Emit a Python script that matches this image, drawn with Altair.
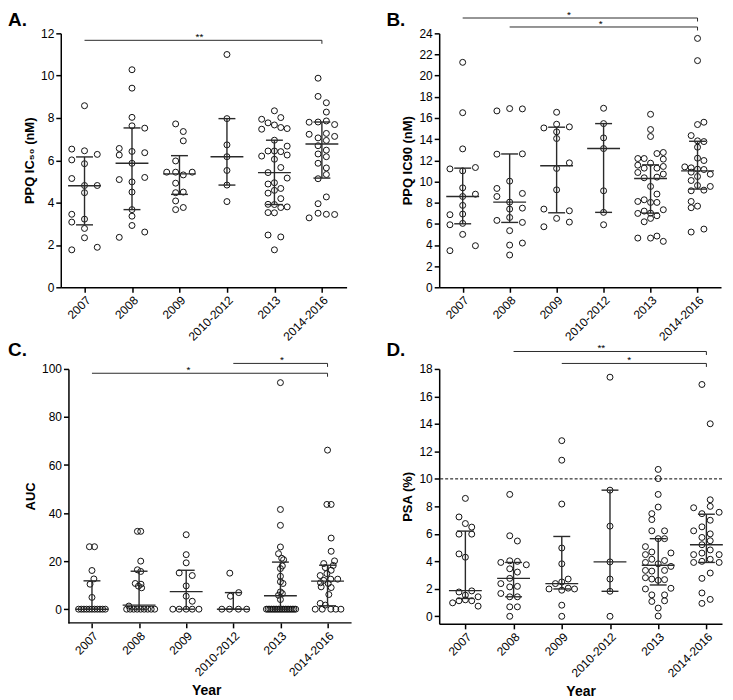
import altair as alt
import pandas as pd

groups = ["2007", "2008", "2009", "2010-2012", "2013", "2014-2016"]

# ---------------- Panel A: PPQ IC50 ----------------
ic50_values = {
    "2007": [8.58, 6.53, 6.45, 6.28, 6.02, 5.84, 5.14, 4.81, 4.81, 4.47, 3.45, 3.08, 3.22, 2.78, 2.34, 1.77, 1.89],
    "2008": [10.28, 9.41, 8.03, 7.63, 7.52, 6.56, 6.25, 6.42, 6.36, 5.86, 5.09, 5.19, 4.98, 4.50, 3.67, 3.36, 2.92, 2.36, 2.61],
    "2009": [7.72, 7.36, 6.92, 5.97, 5.44, 5.44, 5.31, 5.44, 4.92, 4.50, 4.47, 4.08, 3.67, 3.77],
    "2010-2012": [11.0, 7.97, 6.73, 6.17, 5.52, 4.83, 4.05],
    "2013": [8.34, 8.02, 7.94, 7.77, 7.67, 7.55, 7.50, 7.47, 6.95, 6.67, 6.20, 6.44, 6.44, 6.41, 6.25, 6.05, 5.66,
             5.42, 5.16, 4.88, 4.94, 4.67, 4.45, 4.58, 4.19, 3.92, 3.91, 3.77, 3.80, 3.53, 3.52, 2.47, 2.38, 1.77],
    "2014-2016": [9.88, 9.02, 8.72, 8.28, 7.80, 7.81, 7.86, 7.69, 7.23, 7.06, 7.27, 7.13, 6.94, 6.69, 6.30, 6.48,
                  6.17, 5.86, 5.64, 5.33, 5.13, 4.27, 3.95, 3.28, 3.50, 3.45, 3.44],
}
ic50_lanes = {
    "2007": [0, -2, 0, 2, -2, 0, -2, 0, 2, 0, -2, -2, 0, 0, 0, -2, 2],
    "2008": [0, 0, 0, 0, 2, -2, -2, 0, 2, 0, -2, 2, 0, 0, 0, 0, 0, -2, 2],
    "2009": [-0.6, 0.6, 0.6, -0.6, -2, -0.6, 0.6, 2, -0.6, 0.6, -0.6, -0.6, -0.6, 0.6],
    "2010-2012": [0, 0, 0, 0, 0, 0, 0],
    "2013": [0, 1, -2, -1, 0, 1, 2, -2, 0, 2, -2, -1, 0, 1, 2, 0, 1, -1, 2, -1, 0, 1, -1, 0, 1, -1, 0, 1, 2, -1,
             0, -1, 1, 0],
    "2014-2016": [-0.6, -0.6, 0.7, 0.7, -2, -0.6, 0.7, 2, -2, -0.6, 0.7, 2, 0.7, -0.6, -0.6, 0.7, 0.7, -0.6, 0.7,
                  0.7, -0.6, 0.7, -0.6, -2, -0.6, 0.7, 2],
}
ic50_median = [4.80, 5.86, 5.36, 6.17, 5.42, 6.77]
ic50_q1 = [2.95, 3.67, 4.39, 4.83, 3.91, 5.16]
ic50_q3 = [6.16, 7.53, 6.22, 7.97, 6.95, 7.81]
ic50_sig = {"from": [0], "to": [5], "y": [11.67], "label": ["**"], "label_x": [2.42]}
ic50_ticks = [0, 2, 4, 6, 8, 10, 12]

# ---------------- Panel B: PPQ IC90 ----------------
ic90_values = {
    "2007": [21.26, 16.5, 13.08, 11.19, 11.0, 11.32, 9.4, 8.8, 8.58, 7.74, 6.86, 6.92, 5.91, 6.04, 5.0, 3.46, 3.93],
    "2008": [16.67, 16.89, 16.86, 12.58, 12.61, 10.03, 9.34, 8.58, 8.05, 7.39, 8.87, 7.48, 6.32, 6.6, 6.13, 5.35,
             3.99, 4.18, 3.05],
    "2009": [16.54, 15.06, 15.41, 15.16, 14.69, 14.06, 11.76, 11.23, 9.21, 7.39, 7.23, 6.51, 5.72, 6.16],
    "2010-2012": [16.92, 15.47, 14.12, 13.11, 9.12, 7.08, 5.91],
    "2013": [16.35, 14.91, 14.25, 12.64, 12.74, 12.17, 12.17, 12.11, 11.73, 11.54, 11.26, 11.26, 11.42, 10.85,
             10.35, 9.53, 10.41, 10.70, 8.81, 8.11, 8.27, 8.02, 8.02, 6.98, 7.20, 7.01, 6.76, 7.33, 6.19, 6.51,
             4.65, 4.65, 4.84, 4.34],
    "2014-2016": [23.52, 21.42, 15.38, 15.6, 14.34, 13.84, 13.77, 13.24, 12.2, 11.98, 11.38, 11.29, 11.16, 11.13,
                  10.88, 10.47, 10.69, 10.09, 9.62, 9.53, 9.18, 9.12, 8.11, 7.52, 7.67, 5.22, 5.5],
}
ic90_lanes = {
    "2007": [0, 0, 0, -2, 0, 2, 0, 2, 0, 0, -2, 0, -2, 0, 0, -2, 2],
    "2008": [-2, 0, 2, -2, 2, 0, -2, -2, 0, 0, 2, 2, -2, 0, 2, 0, 0, 2, 0],
    "2009": [0, -2, 0, 2, 0, 0, 2, 0, 0, -2, 2, 0, -2, 2],
    "2010-2012": [0, 0, 0, 0, 0, 0, 0],
    "2013": [0, 0, 0, 1, 2, -2, -1, 2, 0, -2, -1, 1, 2, -2, -1, 0, 1, 2, 1, -2, -1, 0, 1, -2, -1, 0, 1, 2, -1, 0,
             -2, 0, 1, 2],
    "2014-2016": [0, 0, 0, 1, -1, 0, 1, 0, 0, 1, -2, -1, 0, 1, -1, 0, 2, -1, 0, 2, 1, -1, -1, -1, 0, -1, 1],
}
ic90_median = [8.58, 8.05, 11.48, 13.11, 10.28, 11.0]
ic90_q1 = [6.0, 6.13, 7.04, 7.08, 7.01, 9.28]
ic90_q3 = [11.26, 12.6, 15.13, 15.47, 11.57, 13.8]
ic90_sig = {"from": [0, 1], "to": [5, 5], "y": [25.45, 24.6], "label": ["*", "*"], "label_x": [2.26, 2.94]}
ic90_ticks = [0, 2, 4, 6, 8, 10, 12, 14, 16, 18, 20, 22, 24]

# ---------------- Panel C: AUC ----------------
auc_values = {
    "2007": [26.0, 26.0, 16.1, 12.6, 10.4, 4.9, 0, 0, 0, 0, 0, 0, 0, 0, 0, 0, 0],
    "2008": [32.4, 32.4, 20.0, 16.4, 15.7, 10.7, 10.4, 9.6, 8.9, 1.3, 0, 0, 0, 0, 0, 0, 0, 0, 0],
    "2009": [31.0, 22.7, 19.3, 15.1, 14.0, 9.7, 5.4, 3.3, 0, 0, 0, 0, 0],
    "2010-2012": [15.0, 6.9, 5.4, 0, 0, 0, 0],
    "2013": [94.3, 41.5, 34.9, 25.9, 23.1, 21.2, 20.6, 16.9, 13.7, 11.4, 10.7, 7.2, 5.8, 4.0, 18.0, 6.5,
             0, 0, 0, 0, 0, 0, 0, 0, 0, 0, 0, 0, 0, 0, 0, 0, 0, 0],
    "2014-2016": [66.2, 43.6, 43.6, 29.6, 24.1, 19.0, 20.1, 17.3, 16.2, 14.0, 14.8, 12.0, 12.5, 12.5, 10.7, 9.3,
                  9.0, 6.1, 2.4, 1.7, 18.2, 11.0, 0, 0, 0, 0, 0],
}
auc_lanes = {
    "2007": [-0.4, 0.4, 0, 0.3, -0.3, 0, -2.1, -1.68, -1.26, -0.84, -0.42, 0, 0.42, 0.84, 1.26, 1.68, 2.1],
    "2008": [-0.26, 0.26, 0.26, -0.26, 0.26, -0.6, 0.3, -0.1, 0.4, -1.6,
             -1.95, -1.4, -0.85, -0.3, 0.25, 0.8, 1.35, 1.9, 2.45],
    "2009": [0, 0, 0, -1.1, 0.95, 0, 0, 0.95, -2.1, -1.1, 0, 0.95, 2.0],
    "2010-2012": [-0.55, 0.85, -0.45, -1.8, -0.6, 0.8, 2.1],
    "2013": [0, 0, 0, 0, -0.3, 0.2, 0.5, 0, 0, 0, 0.4, 0, -0.3, 0, 0.3, 0.3,
             -2.2, -1.93, -1.66, -1.39, -1.12, -0.85, -0.58, -0.31, -0.04, 0.23, 0.5, 0.77, 1.04, 1.31, 1.58,
             1.85, 2.12, 2.39],
    "2014-2016": [0, -0.1, 0.57, 0.57, 0.57, -0.6, 1.1, -0.35, 0.57, -1.15, -0.1, -0.6, 0.5, 1.6, 0.1, -1.0,
                  0.57, 0.2, -1.15, -0.35, 0.9, -1.1, -1.93, -0.83, 0.52, 1.3, 2.1],
}
auc_median = [0, 1.7, 7.3, 0, 5.6, 11.7]
auc_q1 = [0, 0, 0, 0, 0, 1.4]
auc_q3 = [11.8, 15.8, 16.2, 6.9, 19.6, 18.3]
auc_sig = {"from": [3, 0], "to": [5, 5], "y": [102.3, 98.2], "label": ["*", "*"], "label_x": [4.03, 2.05]}
auc_ticks = [0, 20, 40, 60, 80, 100]

# ---------------- Panel D: PSA ----------------
psa_values = {
    "2007": [8.58, 7.23, 6.75, 6.49, 5.98, 5.98, 4.54, 4.30, 1.77, 1.85, 1.54, 0.98, 1.13, 1.20, 1.13, 1.42, 0.74],
    "2008": [8.87, 5.86, 5.48, 3.92, 4.04, 4.00, 3.75, 3.46, 3.22, 2.76, 2.38, 2.18, 2.14, 1.66, 1.42, 1.42, 0.69,
             0.69, 0.0],
    "2009": [12.78, 11.36, 8.17, 4.97, 3.82, 2.71, 2.38, 2.5, 1.99, 2.05, 1.99, 1.9, 0.81, 0.0],
    "2010-2012": [17.4, 9.18, 6.56, 3.96, 2.71, 1.82, 0.0],
    "2013": [10.69, 10.02, 8.87, 7.95, 7.47, 7.04, 6.22, 6.22, 5.65, 5.65, 5.07, 4.49, 4.68, 4.61, 3.92, 4.15,
             3.82, 4.06, 3.63, 3.34, 3.29, 3.34, 2.81, 2.71, 2.62, 2.67, 1.99, 2.04, 1.56, 1.56, 1.08, 1.13,
             0.60, 0.02],
    "2014-2016": [16.87, 14.01, 8.48, 7.90, 8.00, 7.47, 7.57, 6.99, 6.22, 6.51, 6.00, 5.74, 5.50, 5.21, 4.49,
                  4.83, 4.49, 4.60, 3.92, 4.00, 4.15, 3.92, 3.15, 2.76, 1.70, 0.94, 1.23],
}
psa_lanes = {
    "2007": [0, -1, 0, 1, -1, 1, -1, 0, -1, 1, 0, -2, -1, 0, 1, 2, 2],
    "2008": [-0.6, -0.6, 0.6, -2, -0.6, 0.6, 2, -0.6, 0.6, -0.6, -2, 0.6, -0.6, -2, -0.6, 0.6, -0.6, 0.6, -0.6],
    "2009": [0, 0, 0, 0, 0, 1, -1, 0, -2, 1, 2, 0, 0, 0],
    "2010-2012": [0, 0, 0, 0, 0, 0, 0],
    "2013": [0, 0, 0, 0, -1, -1, -1, 1, 0, 1, -2, -2, -1, 2, -2, -1, 0, 1, 2, -2, -1, 1, -2, -1, 0, 1, -2, 2, -1,
             1, -1, 1, 0, 0],
    "2014-2016": [-0.7, 0.6, 0.6, -2, 0.6, -0.7, 2, 0.6, -2, -0.7, 0.6, -0.7, 0.6, -0.7, -2, 0.6, 2, -0.7, -2,
                  -0.7, 0.6, 2, 0.6, -0.7, -0.7, -0.7, 0.6],
}
psa_median = [1.87, 2.76, 2.38, 3.96, 3.72, 5.21]
psa_q1 = [1.3, 1.42, 1.99, 1.82, 2.28, 3.92]
psa_q3 = [6.2, 3.92, 5.81, 9.18, 5.65, 7.43]
psa_sig = {"from": [1, 2], "to": [5, 5], "y": [19.27, 18.4], "label": ["**", "*"], "label_x": [2.82, 3.40]}
psa_ticks = [0, 2, 4, 6, 8, 10, 12, 14, 16, 18]
psa_threshold = [10]

# ---------------- styling constants ----------------
LANE_PX = 6.4
MED_HALF_PX = 16.5
Q_HALF_PX = 8.5
DROP_PX = 3.5
FONT = "Liberation Sans"
LINE = "#2a2a2a"

label_expr = "[" + ",".join("'" + g + "'" for g in groups) + "][datum.value]"


def make_panel(letter, values, lanes, med, q1, q3, sig, ydom, yticks, ytitle, width, height, xdom,
               xtitle=None, yoffset=0, own_baseline=False, threshold=None, letter_y=-7):
    ppx = width / (xdom[1] - xdom[0])
    ppy = height / (ydom[1] - ydom[0])
    rows = []
    for gi, g in enumerate(groups):
        for v, ln in zip(values[g], lanes[g]):
            rows.append({"x": gi + ln * LANE_PX / ppx, "y": v})
    pts = pd.DataFrame(rows)
    st = pd.DataFrame({"x": list(range(len(groups))), "med": med, "q1": q1, "q3": q3})
    st["m0"] = st["x"] - MED_HALF_PX / ppx
    st["m1"] = st["x"] + MED_HALF_PX / ppx
    st["w0"] = st["x"] - Q_HALF_PX / ppx
    st["w1"] = st["x"] + Q_HALF_PX / ppx
    sg = pd.DataFrame(sig)
    sg["ydrop"] = sg["y"] - DROP_PX / ppy

    xs = alt.Scale(domain=xdom, nice=False, zero=False)
    ys = alt.Scale(domain=ydom, nice=False, zero=False)
    xaxis_kw = dict(values=list(range(len(groups))), labelExpr=label_expr, labelAngle=-45,
                    labelAlign="right", labelBaseline="top", labelOverlap=False, labelBound=False,
                    title=xtitle, titleFontSize=14, titlePadding=6)
    if own_baseline:
        xaxis_kw["domain"] = False
    xaxis = alt.Axis(**xaxis_kw)
    yaxis = alt.Axis(values=yticks, title=ytitle, offset=yoffset, labelOverlap=False)

    def X(f):
        return alt.X(f, type="quantitative", scale=xs, axis=xaxis)

    def Y(f):
        return alt.Y(f, type="quantitative", scale=ys, axis=yaxis)

    layers = []
    layers.append(alt.Chart(pts).mark_point(shape="circle", filled=False, size=36, strokeWidth=1,
                                            color="#111111", opacity=1).encode(x=X("x"), y=Y("y")))
    if threshold is not None:
        layers.append(alt.Chart(pd.DataFrame({"t": threshold})).mark_rule(
            color="black", strokeWidth=1, strokeDash=[3, 2]).encode(y=Y("t")))
    rule = dict(color=LINE, strokeWidth=1.4)
    layers.append(alt.Chart(st).mark_rule(**rule).encode(x=X("x"), y=Y("q1"), y2=alt.Y2("q3")))
    layers.append(alt.Chart(st).mark_rule(**rule).encode(x=X("m0"), x2=alt.X2("m1"), y=Y("med")))
    layers.append(alt.Chart(st).mark_rule(**rule).encode(x=X("w0"), x2=alt.X2("w1"), y=Y("q1")))
    layers.append(alt.Chart(st).mark_rule(**rule).encode(x=X("w0"), x2=alt.X2("w1"), y=Y("q3")))
    srule = dict(color=LINE, strokeWidth=1)
    layers.append(alt.Chart(sg).mark_rule(**srule).encode(x=X("from"), x2=alt.X2("to"), y=Y("y")))
    layers.append(alt.Chart(sg).mark_rule(**srule).encode(x=X("to"), y=Y("y"), y2=alt.Y2("ydrop")))
    layers.append(alt.Chart(sg).mark_text(fontSize=10, font=FONT, baseline="alphabetic", align="center",
                                          color="black").encode(x=X("label_x"), y=Y("y"), text="label"))
    if own_baseline:
        bl = pd.DataFrame({"a": [-0.5], "b": [xdom[1]], "y": [ydom[0]]})
        layers.append(alt.Chart(bl).mark_rule(color="black", strokeWidth=1.5).encode(
            x=X("a"), x2=alt.X2("b"), y=Y("y")))
    layers.append(alt.Chart(pd.DataFrame({"t": [letter]})).mark_text(
        align="left", baseline="alphabetic", fontSize=19, fontWeight="bold", font=FONT, color="black"
    ).encode(x=alt.value(-53), y=alt.value(letter_y), text="t"))
    return alt.layer(*layers).properties(width=width, height=height)


pA = make_panel("A.", ic50_values, ic50_lanes, ic50_median, ic50_q1, ic50_q3, ic50_sig, [0, 12], ic50_ticks,
                "PPQ  IC\u2085\u2080 (nM)", 287, 255, [-0.5, 5.52])
pB = make_panel("B.", ic90_values, ic90_lanes, ic90_median, ic90_q1, ic90_q3, ic90_sig, [0, 24], ic90_ticks,
                "PPQ  IC90 (nM)", 283, 255, [-0.5, 5.5])
pC = make_panel("C.", auc_values, auc_lanes, auc_median, auc_q1, auc_q3, auc_sig, [-5.7, 100], auc_ticks,
                "AUC", 292, 255, [-0.662, 5.51], xtitle="Year", yoffset=-7.7, own_baseline=True,
                letter_y=-13)
pD = make_panel("D.", psa_values, psa_lanes, psa_median, psa_q1, psa_q3, psa_sig, [-0.55, 18], psa_ticks,
                "PSA (%)", 284, 256, [-0.543, 5.324], xtitle="Year", threshold=psa_threshold, letter_y=-13)

chart = alt.concat(pA, pB, pC, pD, columns=2, spacing=alt.RowColnumber(row=82, column=88),
                   bounds="flush", align="none").properties(
    padding={"left": 0, "top": 0, "right": 0, "bottom": 0}
).configure_view(strokeWidth=0).configure_axis(
    domainColor="black", domainWidth=1.5, tickColor="black", tickWidth=1.5, tickSize=5,
    labelColor="black", labelFont=FONT, labelFontSize=12, labelPadding=2,
    titleFont=FONT, titleFontSize=13, titleFontWeight="bold", titleColor="black", grid=False
)

chart.save("out.html", embed_options={"renderer": "svg", "actions": False})
